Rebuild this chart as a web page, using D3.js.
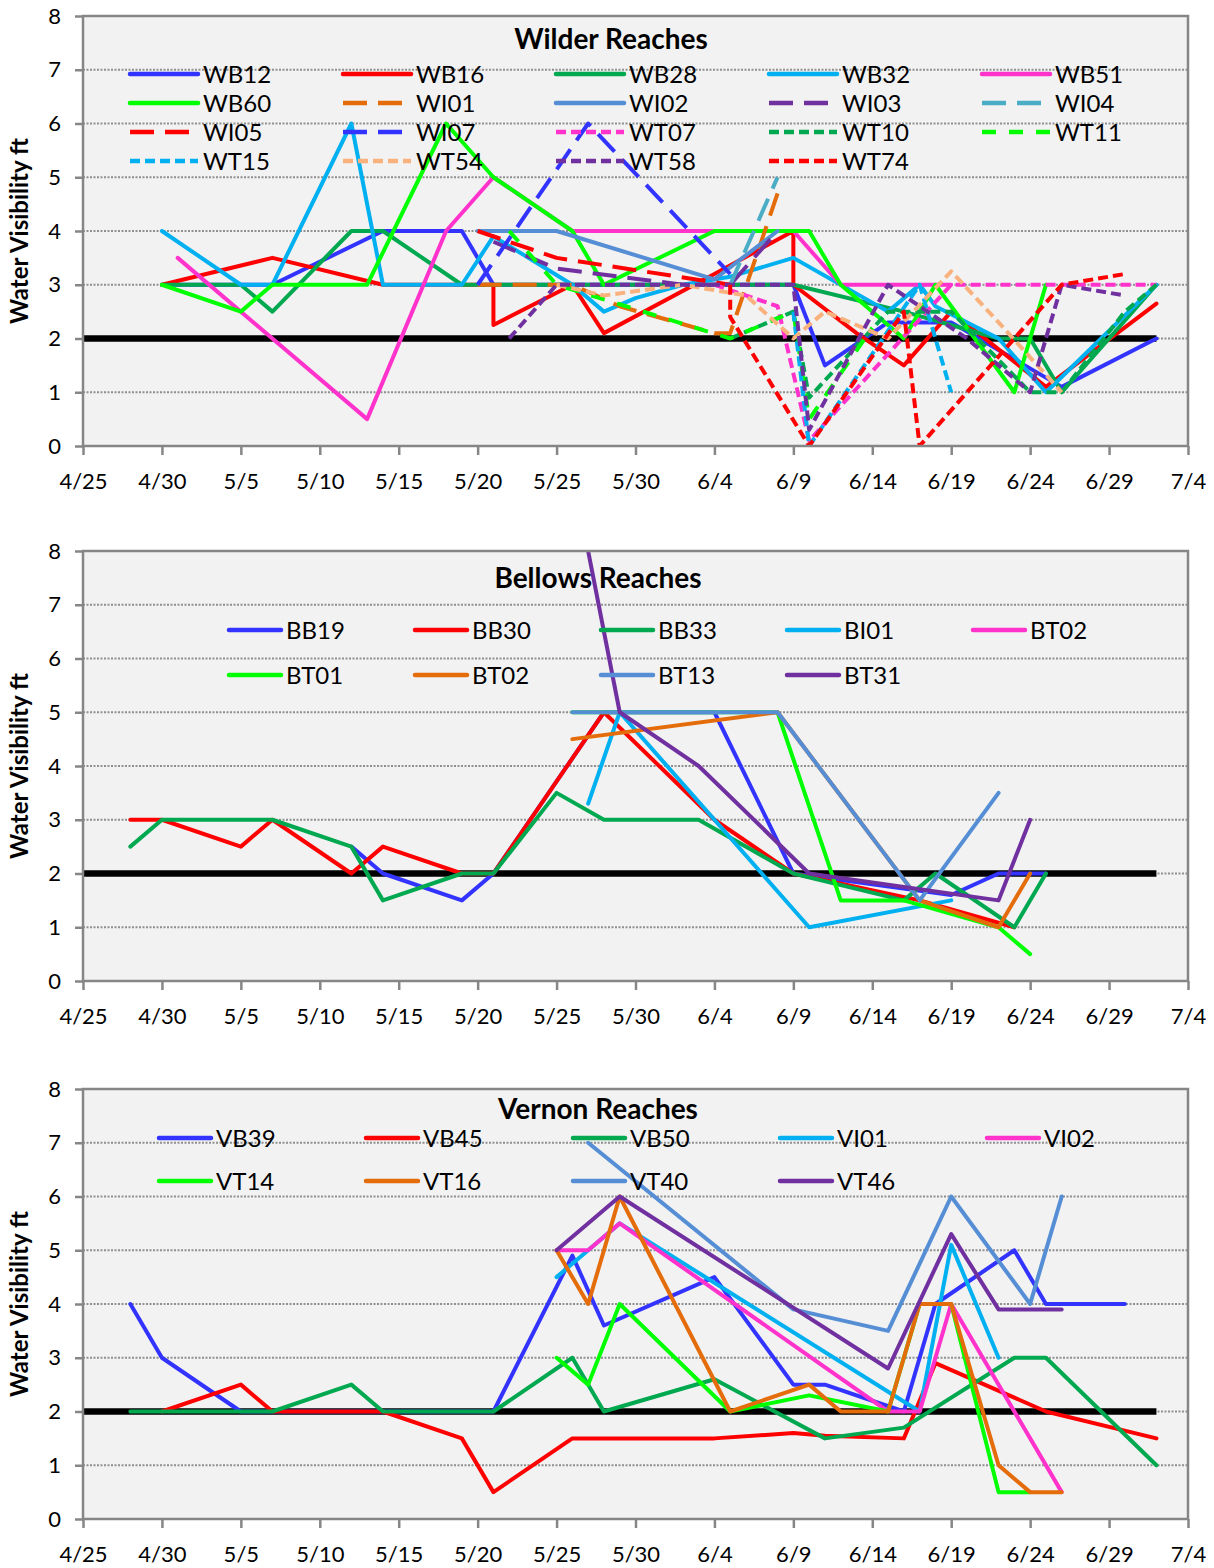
<!DOCTYPE html>
<html><head><meta charset="utf-8">
<script src="https://cdn.jsdelivr.net/npm/d3@7"></script>
<style>
body{margin:0;background:#fff}
text{font-family:Lato,"Open Sans",sans-serif}
</style>
</head><body>
<svg id="chart" width="1214" height="1568"></svg>
<script>
// ---------- data ----------
const xTickLabels = ["4/25","4/30","5/5","5/10","5/15","5/20","5/25","5/30","6/4","6/9","6/14","6/19","6/24","6/29","7/4"];
const yTickValues = [0,1,2,3,4,5,6,7,8];
const threshold = [["4/25",2],["7/2",2]];

// Wilder Reaches
const WB12 = [["4/30",3],["5/7",3],["5/14",4],["5/19",4],["5/21",3],["6/9",3],["6/11",1.5],["6/15",2.3],["6/19",2.3],["6/26",1.1],["7/2",2]];
const WB16 = [["4/30",3],["5/7",3.5],["5/14",3],["5/21",3],["5/21",2.25],["5/26",3],["5/28",2.1],["6/4",3.2],["6/9",4],["6/9",3],["6/13",2.1],["6/16",1.5],["6/19",2.5],["6/25",1.1],["7/2",2.65]];
const WB28 = [["4/30",3],["5/5",3],["5/7",2.5],["5/12",4],["5/14",4],["5/19",3],["6/9",3],["6/16",2.5],["6/22",2],["6/24",2],["6/26",1],["7/2",3]];
const WB32 = [["4/30",4],["5/5",3],["5/7",3],["5/12",6],["5/14",3],["5/19",3],["5/21",3.9],["5/26",3],["5/28",2.5],["5/30",2.75],["6/2",3],["6/5",3.15],["6/9",3.5],["6/12",3],["6/15",2.5],["6/17",3],["6/18",2.6],["6/22",2],["6/25",1],["7/2",3]];
const WB51 = [["5/1",3.5],["5/13",0.5],["5/18",4],["5/21",5],["5/26",4],["6/9",4],["6/12",3],["6/19",3]];
const WB60 = [["4/30",3],["5/5",2.5],["5/7",3],["5/13",3],["5/18",6],["5/21",5],["5/26",4],["5/28",3],["6/4",4],["6/10",4],["6/12",3],["6/16",2],["6/18",3],["6/23",1],["6/25",3]];
const WI01 = [["5/20",3],["5/26",3],["5/29",2.6],["6/4",2.1],["6/5",2.1],["6/8",4.7]];
const WI02 = [["5/20",4],["5/25",4],["6/4",3.1],["6/8",4]];
const WI03 = [["5/21",3.8],["5/25",3.3],["6/2",3],["6/5",3],["6/8",4]];
const WI04 = [["6/5",3],["6/8",5]];
const WI05 = [["5/20",4],["5/25",3.5],["6/5",3]];
const WI07 = [["5/20",3],["5/27",6],["6/5",3.2]];
const WT07 = [["6/4",3],["6/8",2.6],["6/10",0.1],["6/19",3],["7/2",3]];
const WT10 = [["6/5",2],["6/9",2.5],["6/10",0.9],["6/15",2.5],["6/19",2.5],["6/24",1],["6/26",1],["6/30",2.5],["7/2",3]];
const WT11 = [["5/22",4],["5/25",3],["6/5",2],["6/9",2.5],["6/10",0.5],["6/14",2.2]];
const WT15 = [["6/9",2.5],["6/10",0],["6/17",3],["6/19",1]];
const WT54 = [["5/25",3],["5/28",2.8],["6/2",3],["6/6",2.8],["6/9",2],["6/11",2.5],["6/15",2],["6/19",3.25],["6/22",2.3],["6/26",1]];
const WT58 = [["5/22",2],["5/25",3],["6/5",3],["6/9",3],["6/10",0.3],["6/15",3],["6/20",2],["6/24",1],["6/26",3],["6/30",2.8]];
const WT74 = [["6/5",3],["6/5",2.4],["6/10",0],["6/16",2.5],["6/17",0],["6/26",3],["6/30",3.2]];

// Bellows Reaches
const BB19 = [["5/12",2.5],["5/14",2],["5/19",1.5],["5/21",2],["5/28",5],["6/4",5],["6/9",2],["6/19",1.6],["6/22",2],["6/25",2]];
const BB30 = [["4/28",3],["4/30",3],["5/5",2.5],["5/7",3],["5/12",2],["5/14",2.5],["5/19",2],["5/21",2],["5/28",5],["6/4",3],["6/9",2],["6/17",1.5],["6/23",1]];
const BB33 = [["4/28",2.5],["4/30",3],["5/7",3],["5/12",2.5],["5/14",1.5],["5/19",2],["5/21",2],["5/25",3.5],["5/28",3],["6/3",3],["6/9",2],["6/16",1.5],["6/18",2],["6/23",1],["6/25",2]];
const BI01 = [["5/27",3.3],["5/29",5],["6/10",1],["6/19",1.5]];
const BT02pink = [];
const BT01 = [["5/26",5],["6/8",5],["6/12",1.5],["6/16",1.5],["6/22",1],["6/24",0.5]];
const BT02 = [["5/26",4.5],["6/8",5],["6/17",1.5],["6/22",1],["6/24",2]];
const BT13 = [["5/26",5],["6/8",5],["6/17",1.5],["6/22",3.5]];
const BT31 = [["5/26",9.5],["5/29",5],["6/3",4],["6/10",2],["6/22",1.5],["6/24",3]];

// Vernon Reaches
const VB39 = [["4/28",4],["4/30",3],["5/5",2],["5/21",2],["5/26",4.9],["5/28",3.6],["6/4",4.5],["6/9",2.5],["6/11",2.5],["6/16",2],["6/18",4],["6/19",4.2],["6/23",5],["6/25",4],["6/30",4]];
const VB45 = [["4/30",2],["5/5",2.5],["5/7",2],["5/14",2],["5/19",1.5],["5/21",0.5],["5/26",1.5],["6/4",1.5],["6/9",1.6],["6/11",1.55],["6/16",1.5],["6/18",2.9],["6/25",2],["7/2",1.5]];
const VB50 = [["4/28",2],["5/7",2],["5/12",2.5],["5/14",2],["5/21",2],["5/26",3],["5/28",2],["6/4",2.6],["6/11",1.5],["6/16",1.7],["6/23",3],["6/25",3],["7/2",1]];
const VI01 = [["5/25",4.5],["5/27",5],["5/29",5.5],["6/17",2],["6/19",5.1],["6/22",3]];
const VI02 = [["5/25",5],["5/27",5],["5/29",5.5],["6/15",2],["6/17",2],["6/19",4],["6/26",0.5]];
const VT14 = [["5/25",3],["5/27",2.5],["5/29",4],["6/5",2],["6/10",2.3],["6/15",2],["6/17",4],["6/19",4],["6/22",0.5],["6/24",0.5]];
const VT16 = [["5/25",5],["5/27",4],["5/29",6],["6/5",2],["6/10",2.5],["6/12",2],["6/15",2],["6/17",4],["6/19",4],["6/22",1],["6/24",0.5],["6/26",0.5]];
const VT40 = [["5/27",7],["6/9",3.9],["6/15",3.5],["6/19",6],["6/24",4],["6/26",6]];
const VT46 = [["5/25",5],["5/29",6],["6/15",2.8],["6/19",5.3],["6/22",3.9],["6/26",3.9]];

// series lists (legend order) : [label, data, styleKey]
const wilderSeries = [
  ["WB12",WB12,"blue"],["WB16",WB16,"red"],["WB28",WB28,"dgreen"],["WB32",WB32,"lblue"],["WB51",WB51,"pink"],
  ["WB60",WB60,"bgreen"],["WI01",WI01,"orangeL"],["WI02",WI02,"steel"],["WI03",WI03,"purpleL"],["WI04",WI04,"tealL"],
  ["WI05",WI05,"redL"],["WI07",WI07,"blueL"],["WT07",WT07,"pinkS"],["WT10",WT10,"dgreenS"],["WT11",WT11,"bgreenM"],
  ["WT15",WT15,"lblueS"],["WT54",WT54,"peachS"],["WT58",WT58,"purpleS"],["WT74",WT74,"redS"]
];
const bellowsSeries = [
  ["BB19",BB19,"blue"],["BB30",BB30,"red"],["BB33",BB33,"dgreen"],["BI01",BI01,"lblue"],["BT02",BT02pink,"pink"],
  ["BT01",BT01,"bgreen"],["BT02",BT02,"orange"],["BT13",BT13,"steel"],["BT31",BT31,"purple"]
];
const vernonSeries = [
  ["VB39",VB39,"blue"],["VB45",VB45,"red"],["VB50",VB50,"dgreen"],["VI01",VI01,"lblue"],["VI02",VI02,"pink"],
  ["VT14",VT14,"bgreen"],["VT16",VT16,"orange"],["VT40",VT40,"steel"],["VT46",VT46,"purple"]
];

// ---------- styles ----------
const LONG = "24,11", SHORT = "10,5", MED = "14,13";
const styles = {
  blue:{c:"#3333FF"}, red:{c:"#FF0000"}, dgreen:{c:"#00A850"}, lblue:{c:"#00B0F0"}, pink:{c:"#FF33CC"},
  bgreen:{c:"#00FF00"}, orange:{c:"#E46C0A"}, steel:{c:"#558ED5"}, purple:{c:"#7030A0"},
  orangeL:{c:"#E46C0A",d:LONG}, purpleL:{c:"#7030A0",d:LONG}, tealL:{c:"#4BACC6",d:LONG},
  redL:{c:"#FF0000",d:LONG}, blueL:{c:"#3333FF",d:LONG}, pinkS:{c:"#FF33CC",d:SHORT},
  dgreenS:{c:"#00A850",d:SHORT}, bgreenM:{c:"#00FF00",d:MED}, lblueS:{c:"#00B0F0",d:SHORT},
  peachS:{c:"#F9B27E",d:SHORT}, purpleS:{c:"#7030A0",d:SHORT}, redS:{c:"#FF0000",d:SHORT}
};

// ---------- drawing ----------
const parse = d3.timeParse("%m/%d/%Y");
const pd = s => parse(s + "/2013");
const svg = d3.select("#chart");
const L = 83, R = 1188;
const x = d3.scaleTime().domain([pd("4/25"), pd("7/4")]).range([L, R]);

function drawPanel(cfg, idx) {
  const top = cfg.top, bottom = cfg.top + 430;
  const y = d3.scaleLinear().domain([0, 8]).range([bottom, top]);
  const g = svg.append("g");

  g.append("rect").attr("x", L).attr("y", top).attr("width", R - L).attr("height", bottom - top)
    .attr("fill", "#F2F2F2");

  // gridlines
  g.append("g").selectAll("line").data(yTickValues.filter(v => v > 0 && v < 8)).join("line")
    .attr("x1", L).attr("x2", R).attr("y1", d => y(d)).attr("y2", d => y(d))
    .attr("stroke", "#8f8f8f").attr("stroke-width", 2).attr("stroke-dasharray", "2,1.5");

  const clipId = "clip" + idx;
  g.append("clipPath").attr("id", clipId).append("rect")
    .attr("x", L).attr("y", top).attr("width", R - L).attr("height", bottom - top);

  const line = d3.line().x(d => x(pd(d[0]))).y(d => y(d[1]));
  const plot = g.append("g").attr("clip-path", `url(#${clipId})`);

  plot.append("path").attr("d", line(threshold)).attr("fill", "none")
    .attr("stroke", "#000").attr("stroke-width", 6.5);

  cfg.series.forEach(s => {
    if (!s[1].length) return;
    const st = styles[s[2]];
    plot.append("path").attr("d", line(s[1])).attr("fill", "none")
      .attr("stroke", st.c).attr("stroke-width", 4)
      .attr("stroke-linejoin", "round")
      .attr("stroke-linecap", st.d ? "butt" : "round")
      .attr("stroke-dasharray", st.d || null);
  });

  // border
  g.append("rect").attr("x", L).attr("y", top).attr("width", R - L).attr("height", bottom - top)
    .attr("fill", "none").attr("stroke", "#868686").attr("stroke-width", 2.5);

  // axes
  const xa = g.append("g").attr("transform", `translate(0,${bottom})`)
    .call(d3.axisBottom(x).tickValues(xTickLabels.map(pd)).tickFormat(d3.timeFormat("%-m/%-d"))
      .tickSizeInner(9).tickSizeOuter(0).tickPadding(18));
  xa.select(".domain").remove();
  xa.selectAll("line").attr("stroke", "#868686").attr("stroke-width", 2.5);
  xa.selectAll("text").attr("font-size", 22).attr("fill", "#000").attr("font-family", "Lato");

  const ya = g.append("g").attr("transform", `translate(${L},0)`)
    .call(d3.axisLeft(y).tickValues(yTickValues).tickFormat(d3.format("d"))
      .tickSizeInner(8).tickSizeOuter(0).tickPadding(14));
  ya.select(".domain").remove();
  ya.selectAll("line").attr("stroke", "#868686").attr("stroke-width", 2.5);
  ya.selectAll("text").attr("font-size", 22).attr("fill", "#000").attr("font-family", "Lato");

  // y label
  g.append("text").attr("transform", `translate(28,${(top + bottom) / 2}) rotate(-90)`)
    .attr("text-anchor", "middle").attr("font-size", 24).attr("font-weight", "bold")
    .text("Water Visibility ft");

  // title
  g.append("text").attr("x", cfg.titleX).attr("y", cfg.titleY).attr("text-anchor", "middle")
    .attr("font-size", 28).attr("font-weight", "bold").text(cfg.title);

  // legend
  const lg = g.append("g");
  cfg.series.forEach((s, i) => {
    const col = i % 5, row = Math.floor(i / 5);
    const tx = cfg.legX0 + col * cfg.legDX, ty = cfg.legY0 + row * cfg.legDY;
    const st = styles[s[2]];
    lg.append("line").attr("x1", tx - cfg.legLen - 5).attr("x2", tx - 5).attr("y1", ty).attr("y2", ty)
      .attr("stroke", st.c).attr("stroke-width", 4.5).attr("stroke-dasharray", st.d || null)
      .attr("stroke-linecap", st.d ? "butt" : "round");
    lg.append("text").attr("x", tx).attr("y", ty).attr("dy", "0.36em")
      .attr("font-size", 24).text(s[0]);
  });
}

drawPanel({top: 16, series: wilderSeries, title: "Wilder Reaches", titleX: 611, titleY: 49,
  legX0: 203, legDX: 213, legY0: 74, legDY: 29, legLen: 68}, 0);
drawPanel({top: 551, series: bellowsSeries, title: "Bellows Reaches", titleX: 598, titleY: 588,
  legX0: 286, legDX: 186, legY0: 630, legDY: 45, legLen: 52}, 1);
drawPanel({top: 1089, series: vernonSeries, title: "Vernon Reaches", titleX: 598, titleY: 1119,
  legX0: 216, legDX: 207, legY0: 1138, legDY: 43, legLen: 52}, 2);
</script>
</body></html>
